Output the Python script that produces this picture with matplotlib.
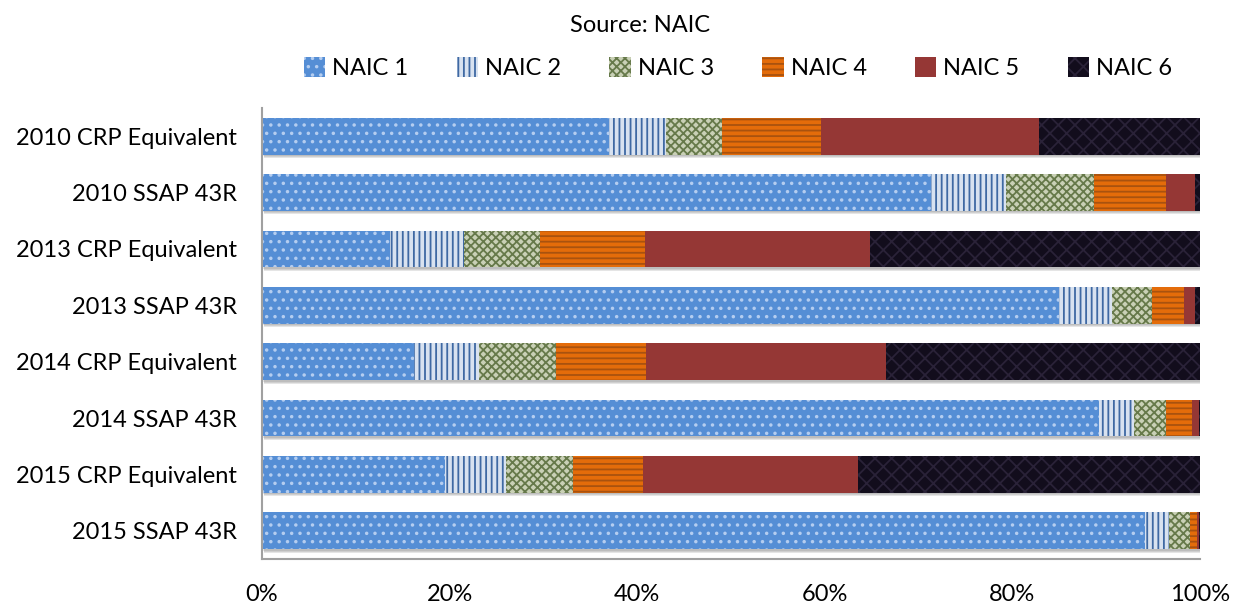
import matplotlib
matplotlib.use("Agg")
import matplotlib.pyplot as plt
import matplotlib.transforms as mtransforms
from matplotlib.patches import Patch
from matplotlib.ticker import FuncFormatter
import numpy as np

plt.rcParams['font.family'] = ['Lato', 'DejaVu Sans']
plt.rcParams['hatch.linewidth'] = 1.3

categories = [
    "2010 CRP Equivalent", "2010 SSAP 43R",
    "2013 CRP Equivalent", "2013 SSAP 43R",
    "2014 CRP Equivalent", "2014 SSAP 43R",
    "2015 CRP Equivalent", "2015 SSAP 43R",
]
series_names = ["NAIC 1", "NAIC 2", "NAIC 3", "NAIC 4", "NAIC 5", "NAIC 6"]

naic1 = [37.0, 71.3, 13.6, 85.0, 16.2, 89.2, 19.5, 94.1]
naic2 = [6.1, 8.0, 7.9, 5.6, 6.9, 3.8, 6.5, 2.6]
naic3 = [5.9, 9.4, 8.1, 4.3, 8.2, 3.4, 7.2, 2.2]
naic4 = [10.6, 7.7, 11.2, 3.4, 9.6, 2.8, 7.4, 0.8]
naic5 = [23.2, 3.1, 24.0, 1.2, 25.6, 0.7, 22.9, 0.2]
naic6 = [17.2, 0.5, 35.2, 0.5, 33.5, 0.1, 36.5, 0.1]

x_ticks = [0, 20, 40, 60, 80, 100]

# (face colour, hatch colour, hatch pattern) per rating class
styles = [
    ("#558ED5", "#B4CDF0", ".."),
    ("#D8E2F0", "#3F69A3", "|||"),
    ("#C9D0B6", "#66794A", "xxxx"),
    ("#E46C0A", "#A9520F", "---"),
    ("#953735", "#953735", ""),
    ("#120D1C", "#2A2238", "xx"),
]

data = np.array([naic1, naic2, naic3, naic4, naic5, naic6], dtype=float)

fig = plt.figure(figsize=(12.34, 6.04), dpi=100)
ax = fig.add_axes([262 / 1234, 1 - 559 / 604, (1200 - 262) / 1234, (559 - 108) / 604])

y = np.arange(len(categories))
bar_h = 0.65

# soft drop shadow under each stacked bar
totals = data.sum(axis=0)
for dx, dy, a in [(0.02, -0.035, 0.18), (0.015, -0.025, 0.18), (0.01, -0.015, 0.18)]:
    off = mtransforms.ScaledTranslation(dx, dy, fig.dpi_scale_trans)
    ax.barh(y, totals, height=bar_h, color="#707070", alpha=a, linewidth=0,
            transform=ax.transData + off, zorder=1)

left = np.zeros(len(categories))
for vals, name, (fc, hc, hatch) in zip(data, series_names, styles):
    ax.barh(y, vals, left=left, height=bar_h, color=fc, edgecolor=hc,
            hatch=hatch, linewidth=0, label=name, zorder=2)
    left += vals

ax.set_ylim(len(categories) - 0.5, -0.5)
ax.set_xlim(0, 100)
ax.set_yticks(y)
ax.set_yticklabels(categories)
ax.set_xticks(x_ticks)
ax.xaxis.set_major_formatter(FuncFormatter(lambda v, p: f"{v:.0f}%"))
ax.tick_params(axis="both", length=0, labelsize=17, colors="black")
ax.tick_params(axis="y", pad=18)
ax.tick_params(axis="x", pad=18)

for s in ["top", "right"]:
    ax.spines[s].set_visible(False)
for s in ["left", "bottom"]:
    ax.spines[s].set_color("#A0A0A0")
    ax.spines[s].set_linewidth(1.5)
    ax.spines[s].set_zorder(3)

fig.text(640 / 1234, 1 - 25 / 604, "Source: NAIC", ha="center", va="center", fontsize=17)

handles = [Patch(facecolor=fc, edgecolor=hc, hatch=hatch, linewidth=0)
           for fc, hc, hatch in styles]
fig.legend(handles, series_names, loc="center", bbox_to_anchor=(738 / 1234, 1 - 68 / 604),
           ncol=6, frameon=False, fontsize=17, handlelength=0.9, handleheight=0.9,
           handletextpad=0.3, columnspacing=2.05, borderaxespad=0)

fig.savefig("out.png", dpi=100)
